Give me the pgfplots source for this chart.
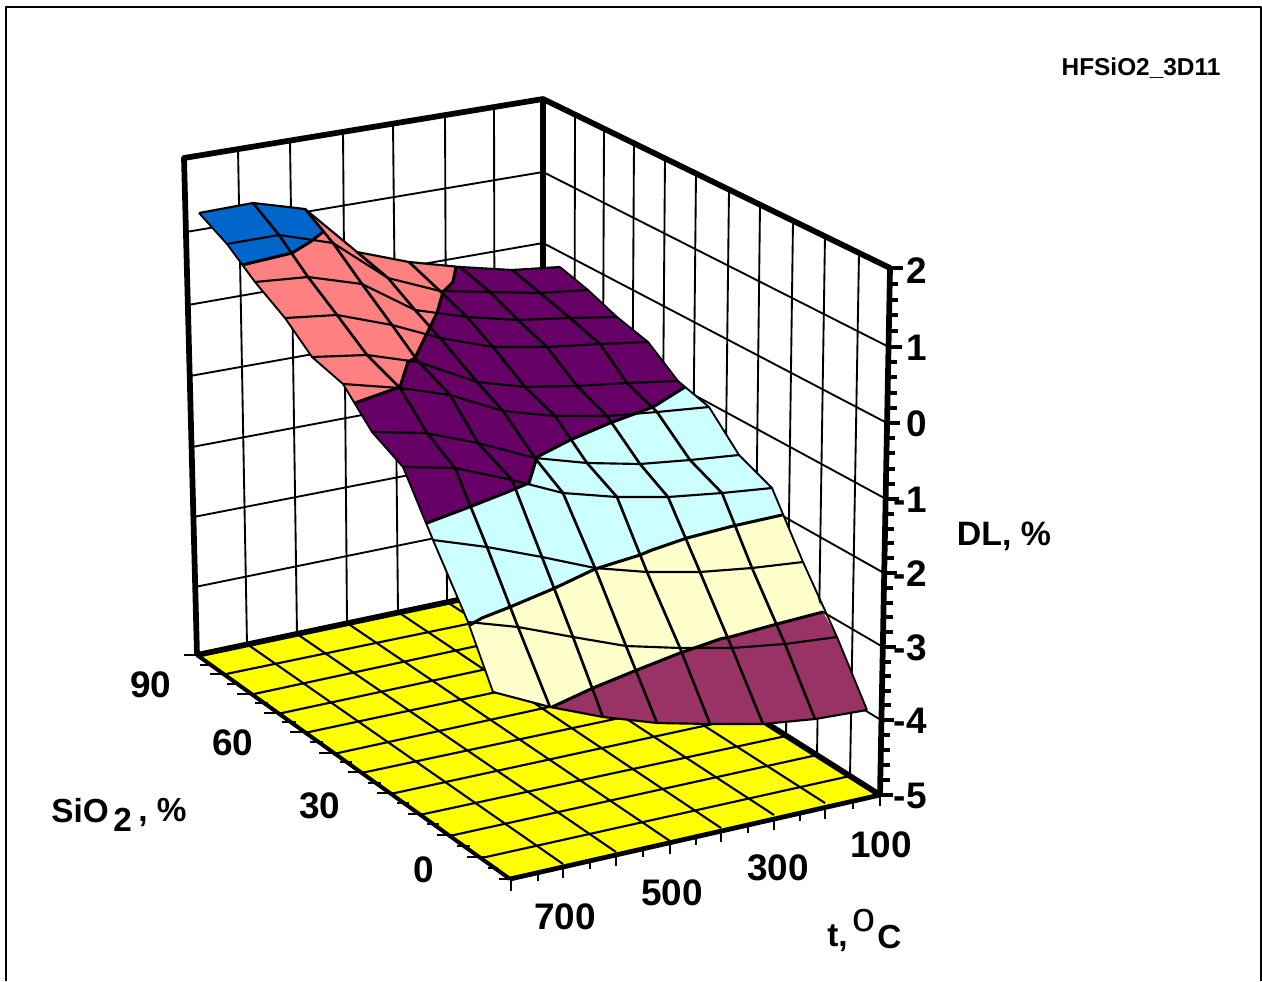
\documentclass[border=0pt]{standalone}
\usepackage{fontspec}
\setmainfont{Liberation Sans}
\usepackage{pgfplots}
\pgfplotsset{compat=1.18}
\definecolor{sblue}{HTML}{0066CC}
\definecolor{spink}{HTML}{FF8080}
\definecolor{spurple}{HTML}{660066}
\definecolor{scyan}{HTML}{CCFFFF}
\definecolor{sivory}{HTML}{FFFFCC}
\definecolor{smaroon}{HTML}{993366}
\definecolor{syellow}{HTML}{FFFF00}
\newcommand{\lab}[4][center]{\node[anchor=#1,inner sep=0pt,font=\fontsize{#4}{#4}\selectfont\bfseries] at (axis cs:#2) {#3};}
\begin{document}
\begin{tikzpicture}
\useasboundingbox (0,0) rectangle (946.5pt,735.75pt);
\begin{axis}[at={(0,0)},anchor=south west,x=0.75pt,y=0.75pt,xmin=0,xmax=1262,ymin=0,ymax=981,y dir=reverse,
  hide axis,clip=false,no markers,unbounded coords=jump,line join=round]
% frame
\addplot[black,line width=1.6pt] coordinates {(6,981)(6,7)(1261,7)(1261,981)};
% left wall horizontals
\addplot[black,line width=1.4pt] coordinates {(186,232)(543,172)(nan,nan)(188,305)(543,243)(nan,nan)(190,376)(543,313)(nan,nan)(192,447)(543,381)(nan,nan)(193.5,517)(543,449)(nan,nan)(195,587)(543,516)};
% left wall verticals
\addplot[black,line width=1.4pt] coordinates {(238,149)(247,644)(nan,nan)(290,141)(297,634)(nan,nan)(343,132)(347,623)(nan,nan)(393,124)(398,612)(nan,nan)(445,115)(447,602)(nan,nan)(494,107)(495,592)};
% right wall horizontals
\addplot[black,line width=1.4pt] coordinates {(543,172)(889,347)(nan,nan)(543,243)(887,423)(nan,nan)(543,313)(886,499)(nan,nan)(543,381)(884,573)(nan,nan)(543,449)(883,647)(nan,nan)(543,516)(881,720)};
% right wall verticals
\addplot[black,line width=1.4pt] coordinates {(575,115)(574,602)(nan,nan)(604,129)(602,619)(nan,nan)(634,143)(631,638)(nan,nan)(665,158)(661,657)(nan,nan)(696,173)(691,676)(nan,nan)(729,190)(723,696)(nan,nan)(760,205)(754,715)(nan,nan)(793,221)(786,736)(nan,nan)(825,236)(817,755)(nan,nan)(859,253)(850,776)};
% floor
\addplot[draw=none,fill=syellow] coordinates {(197,655)(510,879)(880,795)(543,582)(197,655)};
\addplot[black,line width=1.6pt] coordinates {(563,864)(247,644)(nan,nan)(616,852)(297,634)(nan,nan)(670,841)(347,623)(nan,nan)(721,828)(398,612)(nan,nan)(774,815)(447,602)(nan,nan)(825,803)(495,592)};
\addplot[black,line width=1.6pt] coordinates {(486,857)(850,776)(nan,nan)(454,835)(817,755)(nan,nan)(424,814)(786,736)(nan,nan)(395,793)(754,715)(nan,nan)(366,772)(723,696)(nan,nan)(338,753)(691,676)(nan,nan)(309,732)(661,657)(nan,nan)(282,713)(631,638)(nan,nan)(254,694)(602,619)(nan,nan)(226,674)(574,602)};
% thick box
\addplot[black,line width=4.3pt] coordinates {(197,655)(184,158)(543,99)(890,268)(880,795)};
\addplot[black,line width=4.3pt] coordinates {(543,99)(543,582)};
\addplot[black,line width=4.3pt] coordinates {(197,655)(543,582)(880,795)};
\addplot[black,line width=3pt] coordinates {(197,655)(510,879)};
\addplot[black,line width=3.6pt] coordinates {(510,879)(880,795)};
% z ticks
\addplot[black,line width=2.6pt] coordinates {(890,268)(903,268)(nan,nan)(889,347)(902,347)(nan,nan)(887,423)(900,423)(nan,nan)(886,499)(899,499)(nan,nan)(884,573)(897,573)(nan,nan)(883,647)(896,647)(nan,nan)(881,720)(894,720)(nan,nan)(880,795)(893,795)};
\addplot[black,line width=2.4pt] coordinates {(889,284)(898,284)(nan,nan)(889,300)(898,300)(nan,nan)(889,315)(898,315)(nan,nan)(889,331)(898,331)(nan,nan)(888,362)(897,362)(nan,nan)(888,377)(897,377)(nan,nan)(888,393)(897,393)(nan,nan)(888,408)(897,408)(nan,nan)(886,438)(895,438)(nan,nan)(886,453)(895,453)(nan,nan)(886,469)(895,469)(nan,nan)(886,484)(895,484)(nan,nan)(885,514)(894,514)(nan,nan)(885,529)(894,529)(nan,nan)(885,543)(894,543)(nan,nan)(885,558)(894,558)(nan,nan)(883.5,588)(892.5,588)(nan,nan)(883.5,603)(892.5,603)(nan,nan)(883.5,617)(892.5,617)(nan,nan)(883.5,632)(892.5,632)(nan,nan)(882,662)(891,662)(nan,nan)(882,676)(891,676)(nan,nan)(882,691)(891,691)(nan,nan)(882,705)(891,705)(nan,nan)(880.5,735)(889.5,735)(nan,nan)(880.5,750)(889.5,750)(nan,nan)(880.5,765)(889.5,765)(nan,nan)(880.5,780)(889.5,780)};
% t ticks
\addplot[black,line width=2.2pt] coordinates {(511,879)(511,891)(nan,nan)(563,867)(563,878)(nan,nan)(616,855)(616,866)(nan,nan)(670,843)(670,854)(nan,nan)(721,831)(721,842)(nan,nan)(774,819)(774,830)(nan,nan)(825,808)(825,819)(nan,nan)(880,795)(880,806)};
\addplot[black,line width=2.2pt] coordinates {(538,873)(538,881)(nan,nan)(590,861)(590,869)(nan,nan)(643,849)(643,857)(nan,nan)(696,837)(696,845)(nan,nan)(748,825)(748,833)(nan,nan)(800,813)(800,821)(nan,nan)(853,801)(853,809)};
% SiO2 ticks
\addplot[black,line width=2.2pt] coordinates {(197,655)(184,655)(nan,nan)(226,674)(210,674)(nan,nan)(254,694)(237,694)(nan,nan)(282,713)(264,713)(nan,nan)(309,732)(290,732)(nan,nan)(338,753)(319,753)(nan,nan)(366,772)(348,772)(nan,nan)(395,793)(377,793)(nan,nan)(424,814)(408,814)(nan,nan)(454,835)(437,835)(nan,nan)(486,857)(467,857)(nan,nan)(510,879)(499,879)};
\addplot[black,line width=2.2pt] coordinates {(212,665)(200,665)(nan,nan)(240,684)(227,684)(nan,nan)(268,703)(255,703)(nan,nan)(296,722)(282,722)(nan,nan)(323,742)(310,742)(nan,nan)(352,762)(340,762)(nan,nan)(381,783)(368,783)(nan,nan)(409,803)(397,803)(nan,nan)(439,824)(427,824)(nan,nan)(470,846)(457,846)(nan,nan)(498,868)(488,868)};
% surface bands
\addplot[draw=none,fill=smaroon] coordinates {(552,707)(593,688)(637,670)(680,653)(720,639)(730,637)(777,624)(823,612)(837,637)(867,710)(815,719)(763,724)(710,724)(657,723)(603,717)(552,707)};
\addplot[draw=none,fill=sivory] coordinates {(470,625)(482,618)(510,607)(555,588)(595,569)(640,555)(652,550)(687,538)(733,526)(782,515)(803,562)(823,612)(777,624)(730,637)(720,639)(680,653)(637,670)(593,688)(552,707)(493,692)(470,625)};
\addplot[draw=none,fill=scyan] coordinates {(427,523)(472,506)(505,493)(529,483)(537,457)(570,440)(610,423)(653,407)(685,387)(709,407)(739,455)(772,488)(782,515)(733,526)(687,538)(652,550)(640,555)(595,569)(555,588)(510,607)(482,618)(470,625)(433,540)(427,523)};
\addplot[draw=none,fill=spurple] coordinates {(355,403)(400,387)(408,362)(415,358)(430,327)(437,313)(443,292)(453,282)(456,267)(460,267)(512,270)(560,267)(588,290)(617,317)(648,342)(678,381)(685,387)(653,407)(610,423)(570,440)(537,457)(529,483)(505,493)(472,506)(427,523)(403,467)(372,432)(355,403)};
\addplot[draw=none,fill=spink] coordinates {(242,265)(292,253)(310,242)(323,232)(305,209)(357,252)(409,262)(456,267)(453,282)(443,292)(437,313)(430,327)(415,358)(408,362)(400,387)(355,403)(343,384)(312,357)(285,318)(255,282)(242,265)};
\addplot[draw=none,fill=sblue] coordinates {(199,213)(253,203)(305,209)(323,232)(310,242)(292,253)(242,265)(227,244)(199,213)};
% surface rows
\addplot[black,line width=1.6pt] coordinates {(199,213)(253,203)(305,209)(357,252)(409,262)(460,267)(512,270)(560,267)};
\addplot[black,line width=1.6pt] coordinates {(227,244)(279,235)(333,243)(388,278)(440,291)(490,292)(540,293)(588,290)};
\addplot[black,line width=1.6pt] coordinates {(255,282)(308,277)(362,284)(415,310)(467,317)(518,320)(570,318)(617,317)};
\addplot[black,line width=1.6pt] coordinates {(285,318)(337,315)(392,325)(440,338)(493,347)(547,347)(600,344)(648,342)};
\addplot[black,line width=1.6pt] coordinates {(312,357)(367,355)(418,362)(477,382)(525,387)(577,386)(627,383)(678,381)};
\addplot[black,line width=1.6pt] coordinates {(343,384)(400,388)(450,395)(503,411)(555,416)(607,416)(657,412)(709,407)};
\addplot[black,line width=1.6pt] coordinates {(372,432)(425,433)(478,443)(535,458)(587,463)(640,464)(690,460)(739,455)};
\addplot[black,line width=1.6pt] coordinates {(403,467)(455,468)(512,480)(563,493)(617,497)(668,497)(722,493)(772,488)};
\addplot[black,line width=1.6pt] coordinates {(433,540)(487,547)(542,557)(595,568)(647,572)(700,572)(752,568)(803,562)};
\addplot[black,line width=1.6pt] coordinates {(468,622)(518,627)(573,637)(626,646)(680,648)(732,648)(785,644)(837,637)};
\addplot[black,line width=1.6pt] coordinates {(493,692)(550,707)(603,717)(657,723)(710,724)(763,724)(815,719)(867,710)};
% surface columns
\addplot[black,line width=1.4pt] coordinates {(199,213)(227,244)(255,282)(285,318)(312,357)(343,384)(372,432)(403,467)(433,540)(468,622)(493,692)};
\addplot[black,line width=2pt] coordinates {(253,203)(279,235)(308,277)(337,315)(367,355)(400,388)(427,433)(455,468)(487,547)(518,627)(550,707)};
\addplot[black,line width=2pt] coordinates {(305,209)(333,243)(362,284)(392,325)(417,360)(450,395)(478,443)(512,480)(542,557)(573,637)(603,717)};
\addplot[black,line width=2pt] coordinates {(357,252)(388,278)(415,310)(440,338)(477,382)(503,411)(535,458)(563,493)(595,568)(626,646)(657,723)};
\addplot[black,line width=2pt] coordinates {(409,262)(440,291)(467,317)(493,347)(525,387)(555,416)(587,463)(617,497)(647,572)(680,648)(710,724)};
\addplot[black,line width=2pt] coordinates {(460,267)(490,292)(518,320)(547,347)(577,386)(607,416)(640,464)(668,497)(700,572)(732,648)(763,724)};
\addplot[black,line width=2pt] coordinates {(512,270)(540,293)(570,318)(600,344)(627,383)(657,412)(690,460)(722,493)(752,568)(785,644)(815,719)};
\addplot[black,line width=1.4pt] coordinates {(560,267)(588,290)(617,317)(648,342)(678,381)(709,407)(739,455)(772,488)(803,562)(837,637)(867,710)};
% band boundaries
\addplot[black,line width=2.3pt] coordinates {(242,265)(292,253)(310,242)(323,232)};
\addplot[black,line width=2.3pt] coordinates {(456,267)(453,282)(443,292)(437,313)(430,327)(415,358)(408,362)(400,387)(355,403)};
\addplot[black,line width=2.3pt] coordinates {(685,387)(653,407)(610,423)(570,440)(537,457)(529,483)(505,493)(472,506)(427,523)};
\addplot[black,line width=2.3pt] coordinates {(782,515)(733,526)(687,538)(652,550)(640,555)(595,569)(555,588)(510,607)(482,618)(470,625)};
\addplot[black,line width=2.3pt] coordinates {(823,612)(777,624)(730,637)(720,639)(680,653)(637,670)(593,688)(552,707)};
% text
\lab{1141,68}{HFSiO2\_3D11}{18.3}
\lab{151,685}{90}{27.7}
\lab{233,743}{60}{27.7}
\lab{320,806}{30}{27.7}
\lab{424,870}{0}{27.7}
\lab{565,917}{700}{27.7}
\lab{672,893}{500}{27.7}
\lab{778,868}{300}{27.7}
\lab{881,845}{100}{27.7}
\lab[east]{927,271}{2}{27.7}
\lab[east]{927,348}{1}{27.7}
\lab[east]{927,424}{0}{27.7}
\lab[east]{927,500}{-1}{27.7}
\lab[east]{927,574}{-2}{27.7}
\lab[east]{927,648}{-3}{27.7}
\lab[east]{927,721}{-4}{27.7}
\lab[east]{927,796}{-5}{27.7}
\lab{1004,536}{DL, \%}{25.4}
\lab[west]{51,811}{SiO}{25}
\lab[west]{113,820}{2}{25}
\lab[west]{138,812}{, \%}{25}
\lab[west]{827,938}{t,}{25}
\lab[west]{852,921}{\fontseries{m}\selectfont o}{31}
\lab[west]{877,937}{C}{25}
\end{axis}
\end{tikzpicture}
\end{document}
